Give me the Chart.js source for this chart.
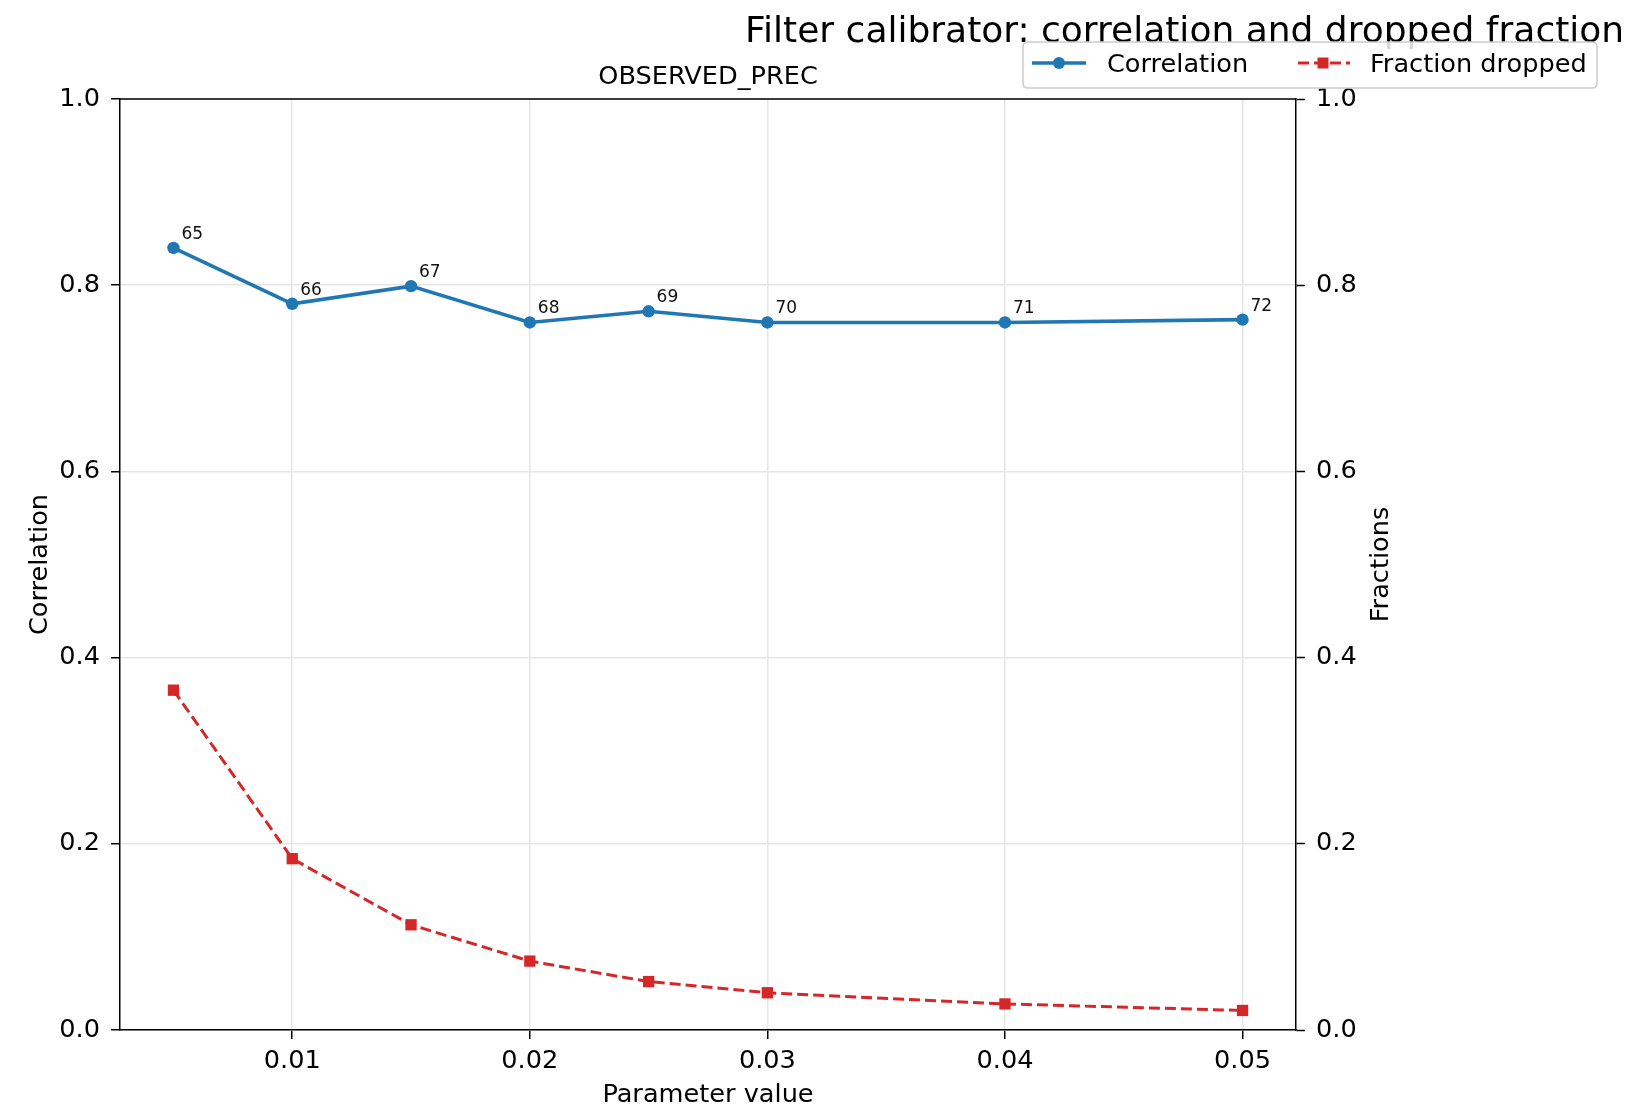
<!DOCTYPE html>
<html>
<head>
<meta charset="utf-8">
<script src="https://cdn.jsdelivr.net/npm/chart.js@4.4.0/dist/chart.umd.min.js"></script>
<style>
  html, body { margin: 0; padding: 0; background: #fff; }
  #wrap { width: 1626px; height: 1113px; position: relative; }
</style>
</head>
<body>
<div id="wrap"><canvas id="c"></canvas></div>
<script>
const paramValues = [0.005, 0.01, 0.015, 0.02, 0.025, 0.03, 0.04, 0.05];
const correlation = [0.840, 0.780, 0.799, 0.760, 0.772, 0.760, 0.760, 0.763];
const fractionDropped = [0.365, 0.184, 0.113, 0.074, 0.052, 0.040, 0.028, 0.021];
const pointLabels = ['65', '66', '67', '68', '69', '70', '71', '72'];
const xTicks = [0.01, 0.02, 0.03, 0.04, 0.05];
const yTicks = [0.0, 0.2, 0.4, 0.6, 0.8, 1.0];

const suptitle = 'Filter calibrator: correlation and dropped fraction';
const axTitle = 'OBSERVED_PREC';
const xLabel = 'Parameter value';
const yLabel = 'Correlation';
const y2Label = 'Fractions';
const seriesNames = ['Correlation', 'Fraction dropped'];

const FONT = '"DejaVu Sans", sans-serif';
const BLUE = '#1f77b4';
const RED = '#d62728';
const FS = 25.6;

const overlay = {
  id: 'overlay',
  afterDatasetsDraw(chart) {
    const ctx = chart.ctx;
    const meta = chart.getDatasetMeta(0);
    ctx.save();
    ctx.fillStyle = '#111';
    ctx.font = '17px ' + FONT;
    ctx.textAlign = 'left';
    ctx.textBaseline = 'alphabetic';
    meta.data.forEach((pt, i) => {
      ctx.fillText(pointLabels[i], pt.x + 8, pt.y - 9);
    });
    ctx.restore();
  },
  afterDraw(chart) {
    const ctx = chart.ctx;
    const a = chart.chartArea;
    ctx.save();
    // top spine
    ctx.strokeStyle = '#000';
    ctx.lineWidth = 1.5;
    ctx.beginPath();
    ctx.moveTo(a.left, a.top);
    ctx.lineTo(a.right, a.top);
    ctx.stroke();

    ctx.fillStyle = '#000';
    ctx.font = FS + 'px ' + FONT;
    ctx.textAlign = 'center';
    ctx.textBaseline = 'middle';
    ctx.fillText(axTitle, (a.left + a.right) / 2, 77);
    ctx.fillText(xLabel, (a.left + a.right) / 2, 1095);
    ctx.save();
    ctx.translate(40, (a.top + a.bottom) / 2);
    ctx.rotate(-Math.PI / 2);
    ctx.fillText(yLabel, 0, 0);
    ctx.restore();
    ctx.save();
    ctx.translate(1381, (a.top + a.bottom) / 2);
    ctx.rotate(-Math.PI / 2);
    ctx.fillText(y2Label, 0, 0);
    ctx.restore();

    // suptitle
    ctx.font = '36px ' + FONT;
    ctx.textAlign = 'left';
    ctx.fillText(suptitle, 745, 33);

    // legend
    const lx = 1023, ly = 42, lw = 574, lh = 46, r = 5;
    ctx.beginPath();
    ctx.moveTo(lx + r, ly);
    ctx.lineTo(lx + lw - r, ly);
    ctx.quadraticCurveTo(lx + lw, ly, lx + lw, ly + r);
    ctx.lineTo(lx + lw, ly + lh - r);
    ctx.quadraticCurveTo(lx + lw, ly + lh, lx + lw - r, ly + lh);
    ctx.lineTo(lx + r, ly + lh);
    ctx.quadraticCurveTo(lx, ly + lh, lx, ly + lh - r);
    ctx.lineTo(lx, ly + r);
    ctx.quadraticCurveTo(lx, ly, lx + r, ly);
    ctx.closePath();
    ctx.fillStyle = 'rgba(255,255,255,0.85)';
    ctx.fill();
    ctx.strokeStyle = '#cccccc';
    ctx.lineWidth = 1.5;
    ctx.stroke();

    const cy = 63;
    const ds = chart.data.datasets;
    ctx.strokeStyle = ds[0].borderColor;
    ctx.lineWidth = ds[0].borderWidth;
    ctx.setLineDash([]);
    ctx.beginPath();
    ctx.moveTo(1032, cy); ctx.lineTo(1086, cy); ctx.stroke();
    ctx.fillStyle = ds[0].borderColor;
    ctx.beginPath(); ctx.arc(1059, cy, 6, 0, Math.PI * 2); ctx.fill();

    ctx.strokeStyle = ds[1].borderColor;
    ctx.lineWidth = ds[1].borderWidth;
    ctx.setLineDash(ds[1].borderDash);
    ctx.beginPath();
    ctx.moveTo(1298, cy); ctx.lineTo(1350, cy); ctx.stroke();
    ctx.setLineDash([]);
    ctx.fillStyle = ds[1].borderColor;
    ctx.fillRect(1323 - 5.5, cy - 5.5, 11, 11);

    ctx.fillStyle = '#000';
    ctx.font = FS + 'px ' + FONT;
    ctx.textAlign = 'left';
    ctx.textBaseline = 'middle';
    ctx.fillText(seriesNames[0], 1107, cy + 2);
    ctx.fillText(seriesNames[1], 1370, cy + 2);
    ctx.restore();
  }
};

const tickFont = { family: FONT, size: FS };

new Chart(document.getElementById('c'), {
  type: 'line',
  data: {
    datasets: [
      {
        label: seriesNames[0],
        data: paramValues.map((x, i) => ({ x, y: correlation[i] })),
        borderColor: BLUE,
        backgroundColor: BLUE,
        borderWidth: 3.6,
        pointRadius: 6.2,
        pointBorderWidth: 0,
        pointBackgroundColor: BLUE,
        tension: 0,
        yAxisID: 'y'
      },
      {
        label: seriesNames[1],
        data: paramValues.map((x, i) => ({ x, y: fractionDropped[i] })),
        borderColor: RED,
        backgroundColor: RED,
        borderWidth: 3,
        borderDash: [11, 5],
        pointStyle: 'rect',
        pointRadius: 8,
        pointBorderWidth: 0,
        pointBackgroundColor: RED,
        tension: 0,
        yAxisID: 'y2'
      }
    ]
  },
  options: {
    responsive: true,
    maintainAspectRatio: false,
    animation: false,
    layout: { padding: { top: 99, left: 0, right: 0, bottom: 0 } },
    plugins: {
      legend: { display: false },
      title: { display: false },
      tooltip: { enabled: false }
    },
    scales: {
      x: {
        type: 'linear',
        position: 'bottom',
        min: 0.00275,
        max: 0.05225,
        afterBuildTicks: (s) => { s.ticks = xTicks.map(v => ({ value: v })); },
        afterFit: (s) => { s.height = 83; },
        ticks: {
          color: '#000',
          font: tickFont,
          padding: 7,
          maxRotation: 0,
          callback: (v) => v.toFixed(2)
        },
        grid: { color: '#e6e6e6', lineWidth: 1.5, tickLength: 9, tickColor: '#000', tickWidth: 1.5 },
        border: { color: '#000', width: 1.5 }
      },
      y: {
        position: 'left',
        min: 0,
        max: 1,
        afterBuildTicks: (s) => { s.ticks = yTicks.map(v => ({ value: v })); },
        afterFit: (s) => { s.width = 120; },
        ticks: { color: '#000', font: tickFont, padding: 11, callback: (v) => v.toFixed(1) },
        grid: { color: '#e6e6e6', lineWidth: 1.5, tickLength: 9, tickColor: '#000', tickWidth: 1.5 },
        border: { color: '#000', width: 1.5 }
      },
      y2: {
        position: 'right',
        min: 0,
        max: 1,
        afterBuildTicks: (s) => { s.ticks = yTicks.map(v => ({ value: v })); },
        afterFit: (s) => { s.width = 330; },
        ticks: { color: '#000', font: tickFont, padding: 11, callback: (v) => v.toFixed(1) },
        grid: { drawOnChartArea: false, tickLength: 9, tickColor: '#000', tickWidth: 1.5 },
        border: { color: '#000', width: 1.5 }
      }
    }
  },
  plugins: [overlay]
});
</script>
</body>
</html>
